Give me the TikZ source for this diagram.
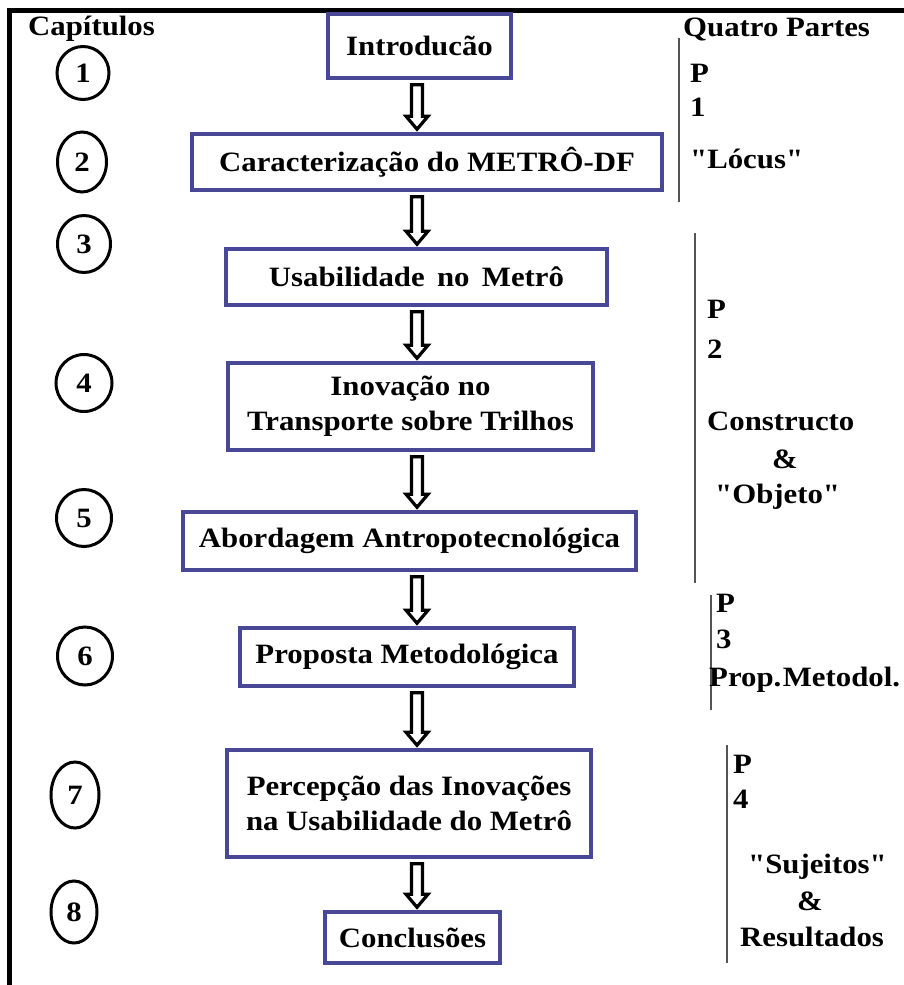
\documentclass[tikz,border=0pt]{standalone}
\usepackage{fontspec}
\setmainfont{Liberation Serif}[FakeStretch=1.1, Ligatures=TeXOff]
\usetikzlibrary{calc,shapes.geometric}
\definecolor{boxblue}{RGB}{72,72,150}
\definecolor{partgray}{RGB}{85,85,85}
\begin{document}
\begin{tikzpicture}[x=1pt,y=-1pt,
  every node/.style={font=\fontsize{28}{35}\selectfont\bfseries, inner sep=0pt},
  stage/.style={draw=boxblue, line width=3.5pt, fill=white, align=center},
  chap/.style={draw=black, line width=3pt, ellipse},
  lbl/.style={anchor=base west},
  partline/.style={draw=partgray, line width=2.5pt},
  flow/.style={draw=black, line width=3.2pt, fill=white, line join=miter}]
\useasboundingbox (0,0) rectangle (904,985);
\fill[white] (0,0) rectangle (904,985);

% outer frame (top and left sides)
\draw[line width=4.5pt] (904,10.5) -- (9.5,10.5) -- (9.5,985);

% headings
\node[lbl] (hcap) at (28,35) {Capítulos};
\node[lbl] (hpart) at (683,36) {Quatro Partes};

% chapter numbers
\node[chap, minimum width=52, minimum height=53] (c1) at (83,73) {1};
\node[chap, minimum width=49, minimum height=60] (c2) at (82,162) {2};
\node[chap, minimum width=53, minimum height=57] (c3) at (84,244) {3};
\node[chap, minimum width=56, minimum height=57] (c4) at (84,383) {4};
\node[chap, minimum width=55, minimum height=57] (c5) at (84,518) {5};
\node[chap, minimum width=55, minimum height=58] (c6) at (85,656) {6};
\node[chap, minimum width=48, minimum height=66] (c7) at (75,795) {7};
\node[chap, minimum width=46, minimum height=62] (c8) at (74,912) {8};

% chapter boxes
\node[stage, minimum width=183, minimum height=64]  (s1) at (419.5,46)   {Introducão};
\node[stage, minimum width=470, minimum height=56]  (s2) at (427,162)    {Caracterização do METRÔ-DF};
\node[stage, minimum width=381, minimum height=56]  (s3) at (416.5,277)  {Usabilidade~\,no~\,Metrô};
\node[stage, minimum width=365, minimum height=87]  (s4) at (410.5,406.5){Inovação no\\Transporte sobre Trilhos};
\node[stage, minimum width=453, minimum height=58]  (s5) at (409.5,541)  {Abordagem Antropotecnológica};
\node[stage, minimum width=334, minimum height=58]  (s6) at (407,657)    {Proposta Metodológica};
\node[stage, minimum width=364, minimum height=107] (s7) at (409,803.5)  {Percepção das Inovações\\na Usabilidade do Metrô};
\node[stage, minimum width=175, minimum height=51]  (s8) at (412.5,937.5){Conclusões};

% hollow block arrows between consecutive boxes
\coordinate (axis) at (417,0);
\newcommand\flowarrow[2]{%
  \path[flow] let \p1=(axis |- #1.south), \p2=(axis |- #2.north) in
    (\x1-5.5pt,\y1-5pt) -- (\x1-5.5pt,\y2+16pt) -- (\x1-11pt,\y2+16pt) --
    (\x1,\y2+3pt) -- (\x1+11pt,\y2+16pt) -- (\x1+5.5pt,\y2+16pt) --
    (\x1+5.5pt,\y1-5pt) -- cycle;}
\flowarrow{s1}{s2}
\flowarrow{s2}{s3}
\flowarrow{s3}{s4}
\flowarrow{s4}{s5}
\flowarrow{s5}{s6}
\flowarrow{s6}{s7}
\flowarrow{s7}{s8}

% part 1
\draw[partline] (679,38) -- (679,202);
\node[lbl] (p1a) at (690,82)  {P};
\node[lbl] (p1b) at (690,116) {1};
\node[lbl] (p1c) at (690,168) {"Lócus"};

% part 2
\draw[partline] (695,233) -- (695,583);
\node[lbl] (p2a) at (707,318) {P};
\node[lbl] (p2b) at (707,358) {2};
\node[lbl] (p2c) at (707,430) {Constructo};
\node[lbl] (p2d) at (772,468) {\&};
\node[lbl] (p2e) at (715,503) {"Objeto"};

% part 3
\draw[partline] (711,595) -- (711,710);
\node[lbl] (p3a) at (716,612) {P};
\node[lbl] (p3b) at (716,648) {3};
\node[lbl] (p3c) at (709,686) {Prop.\hspace{1.5pt}Metodol.};

% part 4
\draw[partline] (727,745) -- (727,963);
\node[lbl] (p4a) at (733,773) {P};
\node[lbl] (p4b) at (733,808) {4};
\node[lbl] (p4c) at (748,873) {"Sujeitos"};
\node[lbl] (p4d) at (797,910) {\&};
\node[lbl] (p4e) at (740,946) {Resultados};
\end{tikzpicture}
\end{document}
